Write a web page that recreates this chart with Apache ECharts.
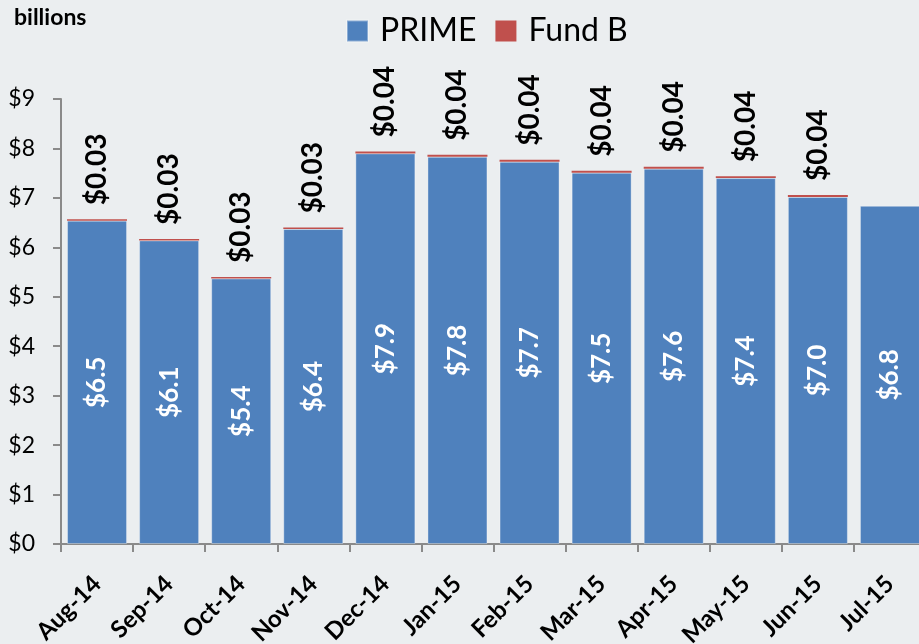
<!DOCTYPE html>
<html>
<head>
<meta charset="utf-8">
<script src="https://cdn.jsdelivr.net/npm/echarts@6/dist/echarts.min.js"></script>
<style>
  html, body { margin: 0; padding: 0; background: #EBEEF0; }
  #chart { width: 919px; height: 644px; }
</style>
</head>
<body>
<div id="chart"></div>
<script>
// Monthly balances, in billions of dollars
const months = ['Aug-14', 'Sep-14', 'Oct-14', 'Nov-14', 'Dec-14', 'Jan-15',
                'Feb-15', 'Mar-15', 'Apr-15', 'May-15', 'Jun-15', 'Jul-15'];
const primeValues = [6.54, 6.14, 5.37, 6.37, 7.90, 7.83, 7.73, 7.51, 7.59, 7.40, 7.02, 6.84];
const fundBValues = [0.03, 0.03, 0.03, 0.03, 0.04, 0.04, 0.04, 0.04, 0.04, 0.04, 0.04, null];
const yTicks = [0, 1, 2, 3, 4, 5, 6, 7, 8, 9];

const FONT = 'Lato, "Open Sans", sans-serif';

const chart = echarts.init(document.getElementById('chart'));
chart.setOption({
  backgroundColor: '#EBEEF0',
  textStyle: { fontFamily: FONT },
  graphic: [{
    type: 'text', left: 14, top: 6,
    style: { text: 'billions', font: 'bold 23px ' + FONT, fill: '#000' }
  }],
  legend: {
    top: 15, left: 346, padding: 0,
    icon: 'rect',
    itemWidth: 21, itemHeight: 21, itemGap: 19,
    textStyle: { fontSize: 32, color: '#000', fontFamily: FONT, padding: [0, 0, 0, 7] },
    data: ['PRIME', 'Fund B']
  },
  grid: {
    left: 61, right: -7, top: 99, bottom: 100,
    containLabel: false, outerBoundsMode: 'none'
  },
  xAxis: {
    type: 'category',
    data: months,
    boundaryGap: true,
    axisLine: { lineStyle: { color: '#8A8A8A', width: 2 } },
    axisTick: { show: true, length: 8, alignWithLabel: false, lineStyle: { color: '#8A8A8A', width: 2 } },
    axisLabel: {
      rotate: 45, interval: 0, margin: 36,
      fontSize: 24, fontWeight: 'bold', color: '#000', fontFamily: FONT
    }
  },
  yAxis: {
    type: 'value',
    min: yTicks[0], max: yTicks[yTicks.length - 1], interval: 1,
    splitLine: { show: false },
    axisLine: { show: true, lineStyle: { color: '#8A8A8A', width: 2 } },
    axisTick: { show: true, length: 8, lineStyle: { color: '#8A8A8A', width: 2 } },
    axisLabel: {
      margin: 26, fontSize: 23, color: '#000', fontFamily: FONT,
      formatter: v => '$' + v
    }
  },
  series: [
    {
      name: 'PRIME', type: 'bar', stack: 'total',
      data: primeValues,
      barWidth: 60,
      itemStyle: { color: '#4F81BD', borderColor: 'rgba(255,255,255,0.35)', borderWidth: 1 },
      label: {
        show: true, position: 'inside', rotate: 90,
        color: '#fff', fontSize: 26, fontWeight: 'bold', fontFamily: FONT,
        formatter: p => '$' + p.value.toFixed(1)
      }
    },
    {
      name: 'Fund B', type: 'bar', stack: 'total',
      data: fundBValues,
      barWidth: 60,
      itemStyle: { color: '#C0504D' },
      label: {
        show: true, position: 'top', rotate: 90,
        align: 'left', verticalAlign: 'middle', distance: 14,
        color: '#000', fontSize: 28, fontWeight: 'bold', fontFamily: FONT,
        formatter: p => p.value == null ? '' : '$' + p.value.toFixed(2)
      }
    }
  ]
});
</script>
</body>
</html>
